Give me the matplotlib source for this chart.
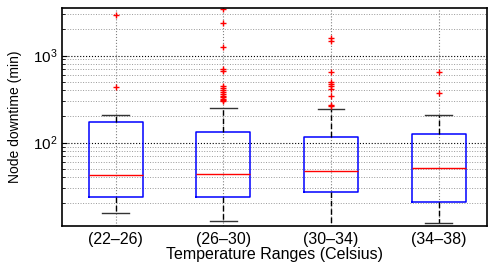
import matplotlib
matplotlib.use("Agg")
import matplotlib.pyplot as plt

plt.rcParams['font.family'] = ['Liberation Sans', 'DejaVu Sans']

labels = ['(22\u201326)', '(26\u201330)', '(30\u201334)', '(34\u201338)']
q1 = [24, 24, 27.4, 20.7]
med = [42.8, 43.6, 47.2, 51]
q3 = [171, 131.6, 116, 126]
whislo = [15.7, 12.6, 10, 11.9]
whishi = [207, 251, 245, 208]
fliers = [
    [2890, 430],
    [3400, 2340, 1236, 700, 659, 450, 420, 400, 380, 360, 340, 330, 320, 310, 300],
    [1570, 1462, 641, 495, 466, 441, 415, 341, 272, 260],
    [641, 371],
]

stats = []
for i in range(len(labels)):
    stats.append(dict(med=med[i], q1=q1[i], q3=q3[i], whislo=whislo[i],
                      whishi=whishi[i], fliers=fliers[i], label=labels[i]))

fig = plt.figure(figsize=(4.88, 2.62), dpi=100)
ax = fig.add_axes([0.127, 0.137, 0.871, 0.832])

ax.bxp(stats, positions=[1, 2, 3, 4], widths=0.5,
       boxprops=dict(color='blue', linewidth=1.1),
       medianprops=dict(color='red', linewidth=1.0),
       whiskerprops=dict(color='black', linewidth=1.0, linestyle=(0, (4, 2))),
       capprops=dict(color='#333333', linewidth=1.0),
       flierprops=dict(marker='+', markeredgecolor='red', markersize=5,
                       markeredgewidth=1.0, linestyle='none'))

ax.set_yscale('log')
ax.set_ylim(11, 3500)
ax.set_xlim(0.5, 4.45)
ax.grid(True, which='major', axis='x', linestyle=':', color='gray', linewidth=0.8)
ax.grid(True, which='major', axis='y', linestyle=':', color='black', linewidth=0.8)
ax.grid(True, which='minor', axis='y', linestyle=':', color='#999999', linewidth=0.7)
ax.set_axisbelow(True)
ax.tick_params(direction='in', which='both', labelsize=11)
ax.tick_params(axis='x', length=0, labelsize=11.5, pad=4)
ax.set_xticks([1, 2, 3, 4])
ax.set_xticklabels(labels)
ax.set_xlabel('Temperature Ranges (Celsius)', fontsize=11.5)
ax.set_ylabel('Node downtime (min)', fontsize=10)
ax.xaxis.set_label_coords(0.5, -0.095)
ax.yaxis.set_label_coords(-0.094, 0.5)
for s in ax.spines.values():
    s.set_linewidth(1.2)

fig.savefig('out.png', dpi=100)
